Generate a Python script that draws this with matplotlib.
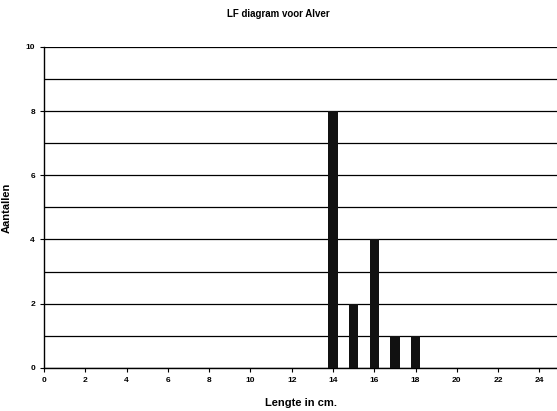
import matplotlib
matplotlib.use("Agg")
import matplotlib.pyplot as plt

lengths = [14, 15, 16, 17, 18]
counts = [8, 2, 4, 1, 1]
x_ticks = list(range(0, 26, 2))
y_ticks = list(range(0, 11, 2))

plt.rcParams["font.family"] = ["Liberation Sans", "DejaVu Sans"]

fig = plt.figure(figsize=(5.57, 4.11), dpi=100)
ax = fig.add_axes([0.079, 0.105, 0.921, 0.781])

ax.bar(lengths, counts, width=0.45, color="#111111", zorder=3)

ax.set_xlim(0, 24.85)
ax.set_ylim(0, 10)
ax.set_xticks(x_ticks)
ax.set_yticks(y_ticks)
ax.set_yticks(range(0, 11), minor=True)
ax.grid(axis="y", which="both", color="black", linewidth=0.9, zorder=1)
ax.tick_params(axis="both", which="major", labelsize=6, length=3, width=0.8)
ax.tick_params(axis="y", which="minor", length=0)
for lbl in ax.get_xticklabels() + ax.get_yticklabels():
    lbl.set_fontweight("bold")

for side in ("top", "right"):
    ax.spines[side].set_visible(False)
ax.spines["left"].set_linewidth(1.0)
ax.spines["bottom"].set_linewidth(1.0)

ax.set_xlabel("Lengte in cm.", fontsize=8, fontweight="bold", labelpad=10)
ax.set_ylabel("Aantallen", fontsize=8, fontweight="bold")
ax.yaxis.set_label_coords(-0.062, 0.5)
fig.text(0.5, 0.965, "LF diagram voor Alver", ha="center", va="center",
         fontsize=7, fontweight="bold")

fig.savefig("out.png", dpi=100)
